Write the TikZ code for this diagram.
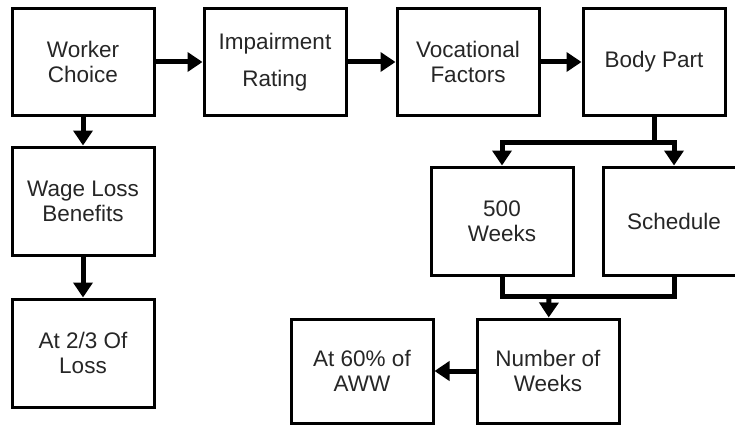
\documentclass[tikz,border=0pt]{standalone}
\usepackage{fontspec}
\setmainfont{Liberation Sans}
\usetikzlibrary{arrows.meta}

\begin{document}
\begin{tikzpicture}[x=1pt, y=-1pt,
    every node/.style={draw, line width=3pt, minimum width=142pt, minimum height=106pt,
        align=center, font=\fontsize{22.5}{25}\selectfont, text=black!85, inner sep=0pt},
    link/.style={line width=5pt, -{Triangle[width=19pt,length=15pt]}},
    bar/.style={line width=5pt}]
    \useasboundingbox (0,0) rectangle (735,425);
    \clip (0,0) rectangle (735,425);

    % Boxes
    \node (choice) at (83,62) {Worker\\Choice};
    \node (rating) at (275,62) {Impairment\\[12pt]Rating};
    \node (factors) at (468,62) {Vocational\\Factors};
    \node (part) at (654,62) {Body Part};
    \node (wage) at (83,201) [minimum height=108pt] {Wage Loss\\Benefits};
    \node (loss) at (83,353) [minimum height=108pt] {At 2/3 Of\\Loss};
    \node (weeks) at (502,221) [minimum height=108pt] {500\\Weeks};
    \node (sched) at (674,221) [minimum height=108pt] {Schedule};
    \node (number) at (548,371) [minimum height=104pt] {Number of\\Weeks};
    \node (aww) at (362,371) [minimum height=104pt] {At 60\% of\\AWW};

    % Joints
    \coordinate (split) at (654,142);
    \coordinate (merge) at (549,296);

    % Arrows
    \draw[link] (choice) -- (rating);
    \draw[link] (rating) -- (factors);
    \draw[link] (factors) -- (part);
    \draw[link] (choice) -- (wage);
    \draw[link] (wage) -- (loss);
    \draw[bar] (part) -- (split);
    \draw[link] (split) -| (weeks.north);
    \draw[link] (split) -| (sched.north);
    \draw[bar] (weeks.south) |- (merge);
    \draw[bar] (sched.south) |- (merge);
    \draw[link] (merge) -- (number);
    \draw[link] (number) -- (aww);

\end{tikzpicture}
\end{document}
